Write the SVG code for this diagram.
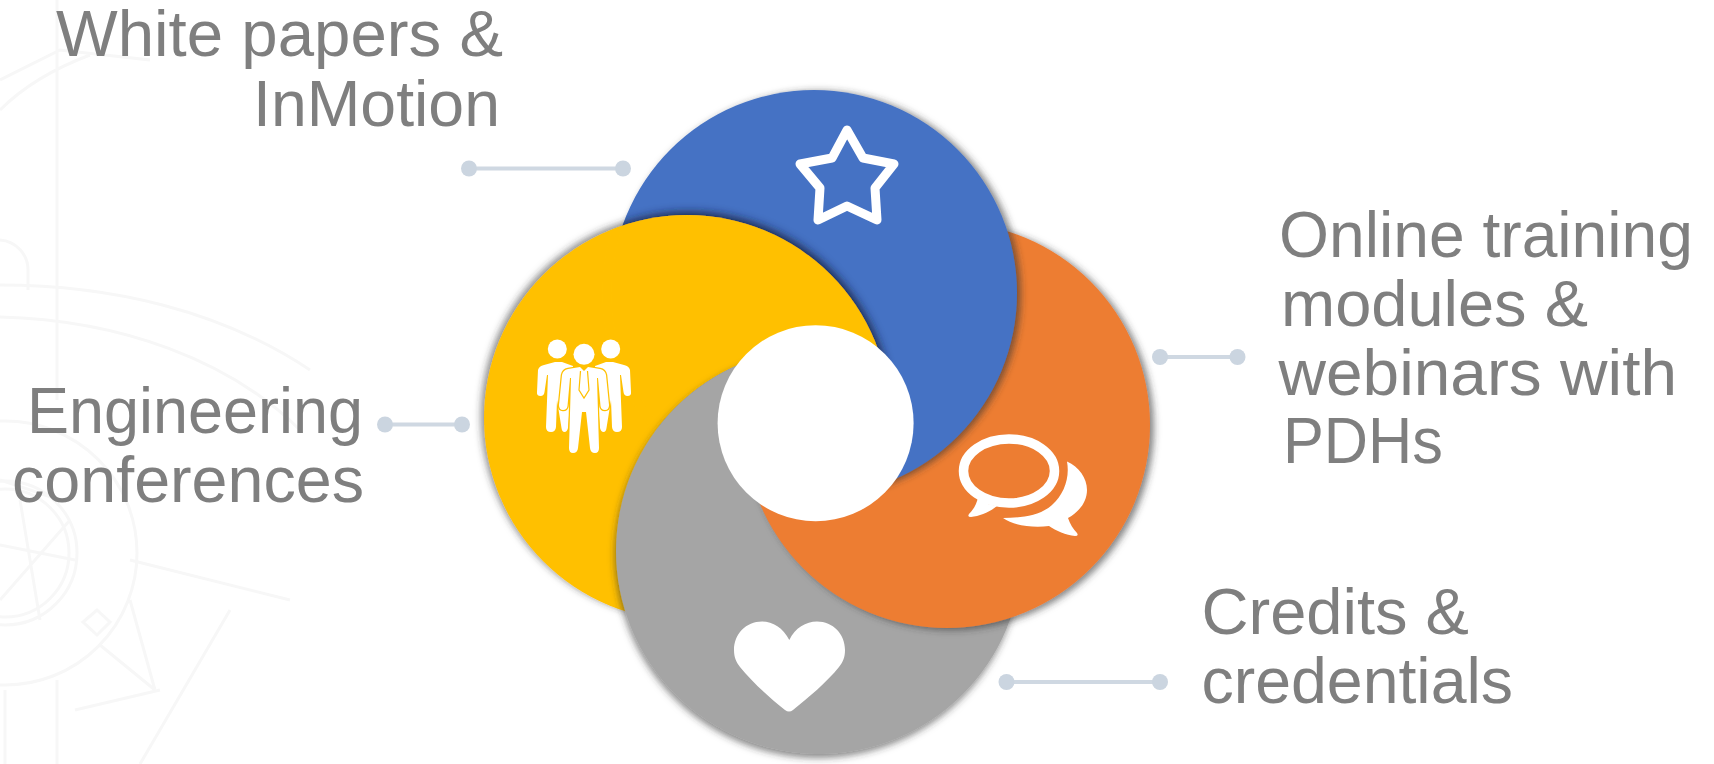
<svg xmlns="http://www.w3.org/2000/svg" width="1714" height="764" viewBox="0 0 1714 764">
<style>
.t{font-family:"Liberation Sans",Arial,sans-serif;font-size:64px;fill:#7f7f7f}
.bg{fill:none;stroke:#f7f7f7;stroke-width:3}
.ln{stroke:#cfd8e2;stroke-width:4;fill:none}
.dot{fill:#cbd5e0}
.ic{fill:#fff}
</style>
<defs>
<filter id="shB" x="-15%" y="-15%" width="130%" height="130%"><feDropShadow dx="4" dy="1" stdDeviation="3.500" flood-color="#333" flood-opacity="0.6"/></filter>
<filter id="shO" x="-15%" y="-15%" width="130%" height="130%"><feDropShadow dx="4" dy="2" stdDeviation="3.500" flood-color="#333" flood-opacity="0.6"/></filter>
<filter id="shG" x="-15%" y="-15%" width="130%" height="130%"><feDropShadow dx="-1" dy="4" stdDeviation="3.500" flood-color="#333" flood-opacity="0.55"/></filter>
<filter id="shY" x="-15%" y="-15%" width="130%" height="130%"><feDropShadow dx="-3" dy="-2" stdDeviation="3.500" flood-color="#333" flood-opacity="0.55"/></filter>
<filter id="shYB" x="-15%" y="-15%" width="130%" height="130%"><feDropShadow dx="2" dy="-3" stdDeviation="4" flood-color="#141e3c" flood-opacity="0.85"/></filter>
<filter id="soft" x="-5%" y="-5%" width="110%" height="110%"><feGaussianBlur stdDeviation="0.7"/></filter>
<circle id="cb" cx="814" cy="293" r="203"/>
<circle id="co" cx="947" cy="425" r="203"/>
<circle id="cy" cx="687" cy="418" r="203"/>
<circle id="cg" cx="819" cy="551" r="203"/>
<clipPath id="blueBig"><circle cx="814" cy="293" r="212"/></clipPath>
<clipPath id="leftPart"><rect x="480" y="200" width="320" height="320"/></clipPath>
<mask id="yFill" maskUnits="userSpaceOnUse" x="0" y="0" width="1714" height="764">
<circle cx="814" cy="293" r="212" fill="#fff"/>
<circle cx="819" cy="551" r="203" fill="#000"/>
</mask>
<mask id="yShadow" maskUnits="userSpaceOnUse" x="0" y="0" width="1714" height="764">
<circle cx="814" cy="293" r="203" fill="#fff"/>
<circle cx="819" cy="551" r="203" fill="#000"/>
</mask>
</defs>
<g id="background">
<circle class="bg" cx="5" cy="553" r="72"/>
<circle class="bg" cx="5" cy="553" r="64"/>
<circle class="bg" cx="5" cy="553" r="132"/>
<path class="bg" d="M0 317C120 320 230 360 300 430M0 285C110 285 220 310 310 370M0 480L60 500M0 600L70 520M20 500L40 620M0 545L75 560"/>
<path class="bg" d="M57 0V400M57 680V764M5 690V764M0 80L60 50L150 60M0 110C20 90 50 70 90 55"/>
<path class="bg" d="M97 610L110 622L97 635L83 622Z"/>
<path class="bg" d="M130 600L155 690M100 645L155 690M0 240A30 30 0 0 1 28 270V290"/>
<path class="bg" d="M230 610L140 764M75 710L160 690M130 560L290 600"/>
</g>
<g id="connectors">
<line class="ln" x1="469" y1="168.500" x2="623" y2="168.500"/><circle class="dot" cx="469" cy="168.500" r="8"/><circle class="dot" cx="623" cy="168.500" r="8"/>
<line class="ln" x1="385" y1="424.500" x2="462" y2="424.500"/><circle class="dot" cx="385" cy="424.500" r="8"/><circle class="dot" cx="462" cy="424.500" r="8"/>
<line class="ln" x1="1160" y1="357" x2="1237.500" y2="357"/><circle class="dot" cx="1160" cy="357" r="8"/><circle class="dot" cx="1237.500" cy="357" r="8"/>
<line class="ln" x1="1006.500" y1="682" x2="1160" y2="682"/><circle class="dot" cx="1006.500" cy="682" r="8"/><circle class="dot" cx="1160" cy="682" r="8"/>
</g>
<g id="node-yellow">
<use href="#cy" fill="#ffc000" filter="url(#shY)"/>
</g>
<g id="node-gray">
<use href="#cg" fill="#a5a5a5" filter="url(#shG)"/>
<path id="icon-heart" class="ic" d="M789.300 640C783 628 773 621.500 762 621.500C746 621.500 734 634 734 650C734 657 736 662 740 667C752 682 770 698 785 710Q789 713 793 710C808 698 827 682 839 667C843 662 845 657 845 650C845 634 833 621.500 817 621.500C806 621.500 795 628 789.300 640Z"/>
</g>
<g id="node-orange">
<use href="#co" fill="#ed7d31" filter="url(#shO)"/>
<g id="icon-chat">
<ellipse cx="1009" cy="471" rx="45.500" ry="32" fill="none" stroke="#fff" stroke-width="9.500"/>
<path class="ic" d="M978 497C977 504 973 510 969 514Q967 517 971 517C980 516 990 512 997 506L988 504L989 499L985 501Z"/>
<path class="ic" d="M1067 461.500C1079 467 1087 478 1087 490C1087 502 1079 512 1068 518C1070 524 1073 529 1077 533Q1079 536 1075 536C1066 535 1056 531 1049 526C1034 528 1014 526 1003 518C1020 518 1040 516 1052 505C1064 494 1070 478 1067 461.500Z"/>
</g>
</g>
<g id="node-blue">
<use href="#cb" fill="#4472c4" filter="url(#shB)"/>
<path id="icon-star" d="M847 130L863 158L894 164L875 188L877 220L847 206L818 220L820 188L800 164L832 158Z" fill="none" stroke="#fff" stroke-width="9" stroke-linejoin="round"/>
</g>
<g id="overlap">
<g mask="url(#yFill)"><use href="#cy" fill="#ffc000"/></g>
<g mask="url(#yShadow)"><use href="#cy" fill="#ffc000" filter="url(#shYB)"/></g>
<g clip-path="url(#blueBig)"><g clip-path="url(#leftPart)"><use href="#cg" fill="#a5a5a5" filter="url(#shG)"/></g></g>
</g>
<g id="icon-people">
<g class="ic"><circle cx="557.300" cy="349" r="9.500"/><path d="M538 370Q539 366 544 365L555 362L562 362L573 366L568 428Q567 432 564.500 432Q562 432 561.500 428L557 400L556 427Q555.500 432 551 432Q546 432 546 427L548 375L547 375L544.500 392Q544 396 540.500 396Q536.500 396 537 392Z"/></g>
<g class="ic" transform="matrix(-1 0 0 1 1168 0)"><circle cx="557.300" cy="349" r="9.500"/><path d="M538 370Q539 366 544 365L555 362L562 362L573 366L568 428Q567 432 564.500 432Q562 432 561.500 428L557 400L556 427Q555.500 432 551 432Q546 432 546 427L548 375L547 375L544.500 392Q544 396 540.500 396Q536.500 396 537 392Z"/></g>
<circle class="ic" cx="584" cy="354.300" r="10.500"/>
<path class="ic" stroke="#ffc000" stroke-width="2.500" paint-order="stroke" d="M562 375Q563 370 568 369L580 367L584 371L588 367L600 369Q605 370 606 375L609 405Q609 410 605 410Q601 410 600.500 406L598 378L597 378L599 448Q599 453 595 453Q590.500 453 590 448L586 412L582 412L578 448Q577.500 453 573 453Q569 453 569 448L571 378L570 378L567.500 406Q567 410 563 410Q559 410 559 405Z"/>
<path d="M580.500 371L579 390L584 398L589 390L587.500 371" fill="none" stroke="#ffc000" stroke-width="1.200"/>
</g>
<g id="node-center"><circle cx="815.600" cy="423.200" r="98" fill="#fff" filter="url(#soft)"/></g>
<g id="labels">
<text class="t" x="56" y="56" textLength="447" lengthAdjust="spacingAndGlyphs">White papers &amp;</text>
<text class="t" x="253" y="126" textLength="247" lengthAdjust="spacingAndGlyphs">InMotion</text>
<text class="t" x="27" y="433" textLength="336" lengthAdjust="spacingAndGlyphs">Engineering</text>
<text class="t" x="12" y="501.500" textLength="352" lengthAdjust="spacingAndGlyphs">conferences</text>
<text class="t" x="1279" y="257" textLength="414" lengthAdjust="spacingAndGlyphs">Online training</text>
<text class="t" x="1281" y="326" textLength="307" lengthAdjust="spacingAndGlyphs">modules &amp;</text>
<text class="t" x="1278.500" y="395" textLength="398.500" lengthAdjust="spacingAndGlyphs">webinars with</text>
<text class="t" x="1283" y="463" textLength="160" lengthAdjust="spacingAndGlyphs">PDHs</text>
<text class="t" x="1201.500" y="634" textLength="267.500" lengthAdjust="spacingAndGlyphs">Credits &amp;</text>
<text class="t" x="1201.500" y="703" textLength="311.500" lengthAdjust="spacingAndGlyphs">credentials</text>
</g>
</svg>
